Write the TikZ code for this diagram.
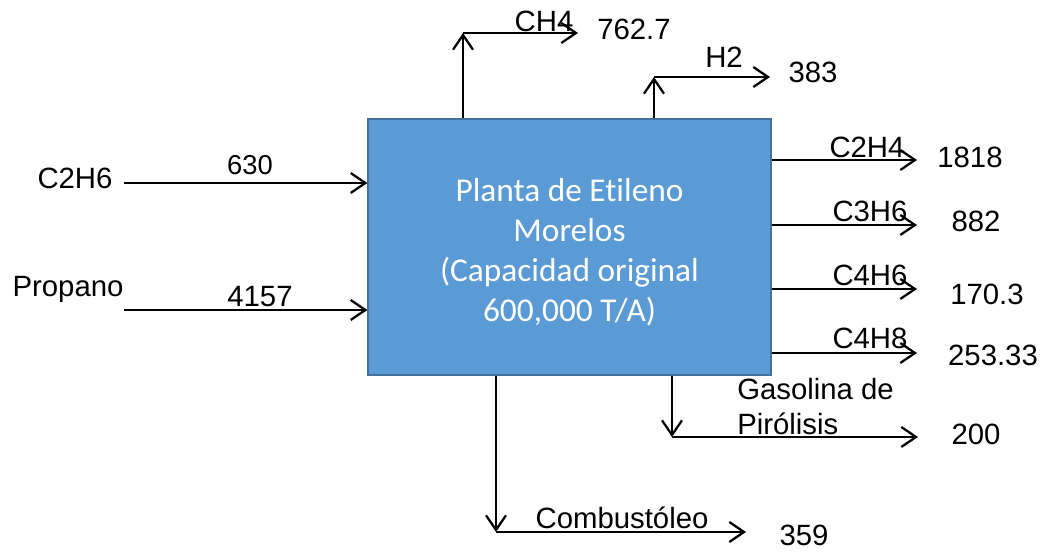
\documentclass[tikz,border=0pt]{standalone}
\usepackage{fontspec}
\setmainfont{Liberation Sans}
\newfontfamily\boxfont[Ligatures=NoCommon]{Carlito}
\usetikzlibrary{arrows.meta}
\definecolor{boxfill}{HTML}{5B9BD5}
\definecolor{boxline}{HTML}{41719C}
\begin{document}
\begin{tikzpicture}[x=0.75pt,y=-0.75pt,
  flow/.style={line width=1.7pt,-{Straight Barb[length=11pt,width=15pt,line width=1.7pt]}},
  lbl/.style={inner sep=0pt,anchor=base,font=\fontsize{22}{24}\selectfont},
  plantbox/.style={draw=boxline,line width=1.2pt,fill=boxfill,minimum width=302pt,minimum height=192pt,inner sep=0pt}]
\path[use as bounding box] (0,0) rectangle (1040,552);

\node[plantbox] (plant) at (569.5,247) {};
\node[text=white,align=center,font=\boxfont\fontsize{25}{30}\selectfont,inner sep=0pt] (ptext) at (plant.center) [yshift=-3.75pt] {Planta de Etileno\\Morelos\\(Capacidad original\\600,000 T/A)};

% inputs
\coordinate (inA) at (124,183);
\coordinate (inB) at (124,310);
\draw[flow] (inA) -- (inA -| plant.west);
\draw[flow] (inB) -- (inB -| plant.west);
\node[lbl] (lC2H6) at (75,189) {C2H6};
\node[lbl] (lProp) at (68,297) {Propano};
\node[lbl,font=\fontsize{20.5}{22}\selectfont] (v630) at (250,175) {630};
\node[lbl] (v4157) at (260,307) {4157};

% top outputs
\coordinate (ch4c) at (463,33);
\coordinate (ch4e) at (578,33);
\draw[flow] (ch4c |- plant.north) -- (ch4c);
\draw[flow] (ch4c) -- (ch4e);
\node[lbl] (lCH4) at (544,32) {CH4};
\node[lbl] (v762) at (634,40) {762.7};

\coordinate (h2c) at (654,77);
\coordinate (h2e) at (770,77);
\draw[flow] (h2c |- plant.north) -- (h2c);
\draw[flow] (h2c) -- (h2e);
\node[lbl] (lH2) at (724,68) {H2};
\node[lbl] (v383) at (813,83) {383};

% right outputs
\coordinate (oA) at (917,160);
\coordinate (oB) at (917,225);
\coordinate (oC) at (917,289);
\coordinate (oD) at (917,353);
\draw[flow] (oA -| plant.east) -- (oA);
\draw[flow] (oB -| plant.east) -- (oB);
\draw[flow] (oC -| plant.east) -- (oC);
\draw[flow] (oD -| plant.east) -- (oD);
\node[lbl] (lC2H4) at (867,158) {C2H4};
\node[lbl] (lC3H6) at (870,222) {C3H6};
\node[lbl] (lC4H6) at (870,286) {C4H6};
\node[lbl] (lC4H8) at (870,349) {C4H8};
\node[lbl] (v1818) at (970,168) {1818};
\node[lbl] (v882) at (976,232) {882};
\node[lbl] (v170) at (987,305) {170.3};
\node[lbl] (v253) at (993,366) {253.33};

% bottom outputs
\coordinate (gasc) at (672,437);
\coordinate (gase) at (918,437);
\draw[flow] (gasc |- plant.south) -- (gasc);
\draw[flow] (gasc) -- (gase);
\node[lbl,anchor=base west] (lGas1) at (737,400) {Gasolina de};
\node[lbl,anchor=base west] (lGas2) at (737,435) {Pirólisis};
\node[lbl] (v200) at (976,445) {200};

\coordinate (comc) at (496,532);
\coordinate (come) at (746,532);
\draw[flow] (comc |- plant.south) -- (comc);
\draw[flow] (comc) -- (come);
\node[lbl] (lCom) at (622,528) {Combustóleo};
\node[lbl] (v359) at (804,546) {359};
\end{tikzpicture}
\end{document}
